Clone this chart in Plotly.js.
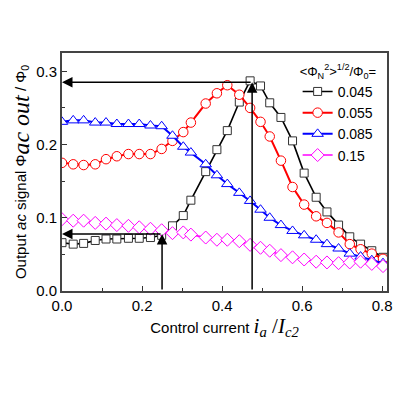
<!DOCTYPE html>
<html>
<head>
<meta charset="utf-8">
<script src="https://cdn.plot.ly/plotly-3.0.1.min.js"></script>
<style>html,body{margin:0;padding:0;background:#fff;}#chart{width:395px;height:395px;}</style>
</head>
<body>
<div id="chart"></div>
<script>
// control current i_a / I_c2
const xVals = [0, 0.028, 0.054, 0.083, 0.110, 0.137, 0.166, 0.193, 0.221, 0.249, 0.276, 0.303, 0.322, 0.359, 0.387, 0.413, 0.443, 0.470, 0.496, 0.519, 0.547, 0.576, 0.605, 0.635, 0.662, 0.691, 0.719, 0.746, 0.774, 0.802];
const seriesNames = ["0.045", "0.055", "0.085", "0.15"];
const y045 = [0.066, 0.064, 0.065, 0.069, 0.071, 0.071, 0.072, 0.072, 0.073, 0.076, 0.089, 0.103, 0.124, 0.163, 0.193, 0.219, 0.258, 0.287, 0.280, 0.257, 0.237, 0.205, 0.161, 0.128, 0.108, 0.090, 0.074, 0.064, 0.055, 0.046];
const y055 = [0.175, 0.173, 0.172, 0.173, 0.180, 0.184, 0.187, 0.187, 0.187, 0.194, 0.205, 0.217, 0.230, 0.256, 0.270, 0.281, 0.268, 0.250, 0.231, 0.211, 0.178, 0.142, 0.118, 0.102, 0.093, 0.080, 0.064, 0.057, 0.051, 0.044];
const y085 = [0.231, 0.233, 0.233, 0.230, 0.230, 0.228, 0.228, 0.228, 0.226, 0.225, 0.212, 0.197, 0.189, 0.173, 0.158, 0.146, 0.134, 0.123, 0.111, 0.100, 0.090, 0.082, 0.076, 0.070, 0.064, 0.058, 0.051, 0.047, 0.042, 0.038];
const y15  = [0.098, 0.096, 0.096, 0.093, 0.092, 0.090, 0.089, 0.087, 0.085, 0.083, 0.079, 0.080, 0.077, 0.073, 0.070, 0.070, 0.068, 0.063, 0.059, 0.055, 0.049, 0.046, 0.043, 0.040, 0.039, 0.038, 0.039, 0.040, 0.037, 0.034];
// arrow markers (x of current, y of output)
const arrowX = [0.25, 0.475];
const arrowY = [0.078, 0.285];
const xTicks = [0.0, 0.2, 0.4, 0.6, 0.8];
const yTicks = [0.0, 0.1, 0.2, 0.3];

const allY = [y045, y055, y085, y15];
const colors = ["#000000", "#ff0000", "#0000ff", "#ff00ff"];
const mColors = ["#333333", "#ff0000", "#0000ff", "#ff00ff"];
const symbols = ["square", "circle", "triangle-up", "diamond"];
const sizes = [8, 9.5, 10, 10];
const widths = [1.6, 2, 2, 1.6];

const traces = allY.map((ys, i) => ({
  x: xVals, y: ys, name: seriesNames[i], type: "scatter", mode: "lines+markers",
  line: {color: colors[i], width: widths[i]},
  marker: {symbol: symbols[i], size: sizes[i], color: "rgba(255,255,255,1)", line: {color: mColors[i], width: 1}}
}));

const annotations = [];
arrowX.forEach((ax, i) => {
  annotations.push({x: ax, y: arrowY[i], ax: ax, ay: 0, xref: "x", yref: "y", axref: "x", ayref: "y",
    text: "", showarrow: true, arrowhead: 2, arrowsize: 1.4, arrowwidth: 1.5, arrowcolor: "#000", standoff: 0});
  annotations.push({x: 0, y: arrowY[i], ax: ax, ay: arrowY[i], xref: "x", yref: "y", axref: "x", ayref: "y",
    text: "", showarrow: true, arrowhead: 2, arrowsize: 1.4, arrowwidth: 1.5, arrowcolor: "#000", standoff: 0});
});

const serif = "'Liberation Serif', 'DejaVu Serif', serif";
const layout = {
  width: 395, height: 395,
  margin: {l: 62, r: 8, t: 53, b: 104},
  paper_bgcolor: "#fff", plot_bgcolor: "#fff",
  font: {family: "'Liberation Sans', Arial, sans-serif", size: 15, color: "#000"},
  showlegend: true,
  legend: {
    x: 0.725, y: 0.975, xanchor: "left", yanchor: "top",
    bgcolor: "rgba(0,0,0,0)", borderwidth: 0,
    font: {size: 14}, itemwidth: 30, tracegroupgap: 0,
    title: {text: "&lt;Φ<sub>N</sub><sup>2</sup>&gt;<sup>1/2</sup>/Φ<sub>0</sub>=", font: {size: 13}}
  },
  xaxis: {
    range: [0, 0.812], tickvals: xTicks, ticktext: xTicks.map(v => v.toFixed(1)),
    ticks: "inside", ticklen: 5, tickwidth: 1, tickcolor: "#333",
    minor: {dtick: 0.1, ticks: "inside", ticklen: 3, tickcolor: "#333"},
    showline: true, linecolor: "#444", linewidth: 2, mirror: true,
    showgrid: false, zeroline: false, tickfont: {size: 15},
    title: {text: "Control current <span style=\"font-family:" + serif + "; font-size:21px\"><i>i</i><sub><i>a</i></sub> /<i>I</i><sub><i>c2</i></sub></span>", standoff: 6, font: {size: 15}}
  },
  yaxis: {
    range: [0, 0.325], tickvals: yTicks, ticktext: yTicks.map(v => v.toFixed(1)),
    ticks: "inside", ticklen: 5, tickwidth: 1, tickcolor: "#333",
    minor: {dtick: 0.05, ticks: "inside", ticklen: 3, tickcolor: "#333"},
    showline: true, linecolor: "#444", linewidth: 2, mirror: true,
    showgrid: false, zeroline: false, tickfont: {size: 15},
    title: {text: "Output <i>ac</i> signal Φ<sub><span style=\"font-family:" + serif + "; font-size:24px\"><i>ac out</i></span></sub> / Φ<sub>0</sub>", standoff: 6, font: {size: 15}}
  },
  annotations: annotations
};

Plotly.newPlot("chart", traces, layout, {displayModeBar: false, staticPlot: true});
</script>
</body>
</html>
